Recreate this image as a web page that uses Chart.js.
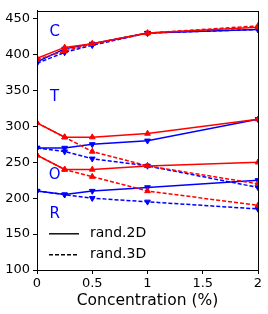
<!DOCTYPE html>
<html>
<head>
<meta charset="utf-8">
<script src="https://cdn.jsdelivr.net/npm/chart.js@4/dist/chart.umd.min.js"></script>
<style>
  html, body { margin: 0; padding: 0; background: #fff; }
  canvas { display: block; }
</style>
</head>
<body>
<canvas id="c" width="268" height="314"></canvas>
<script>
// ---- data ----
const concentrations = [0, 0.25, 0.5, 1, 2];
const xTicks = [0, 0.5, 1, 1.5, 2];
const yTicks = [100, 150, 200, 250, 300, 350, 400, 450];

const C_red_2D  = [395, 410, 415, 430, 438];
const C_red_3D  = [393, 405, 415, 430, 440];
const C_blue_2D = [390, 408, 415, 430, 435];
const C_blue_3D = [388, 403, 413, 430, 435];

const T_red_2D  = [305, 285, 285, 290, 310];
const T_red_3D  = [305, 285, 265, 245, 220];
const T_blue_2D = [270, 270, 275, 280, 310];
const T_blue_3D = [270, 265, 255, 245, 215];

const O_red_2D  = [260, 240, 240, 245, 250];
const O_red_3D  = [260, 240, 230, 210, 190];
const R_blue_2D = [210, 205, 210, 215, 225];
const R_blue_3D = [210, 205, 200, 195, 185];

const groupLabels = ['C', 'T', 'O', 'R'];
const groupLabelX = [0.16, 0.16, 0.16, 0.16];
const groupLabelY = [432, 341, 232, 178];

const legendLabels = ['rand.2D', 'rand.3D'];

const RED = '#ff0000', BLUE = '#0000ff';
const DASH = [4, 2];

function ds(values, color, dashed) {
  const isBlue = color === BLUE;
  return {
    data: concentrations.map((x, i) => ({ x: x, y: values[i] })),
    showLine: true,
    borderColor: color,
    backgroundColor: color,
    borderWidth: 1.5,
    borderDash: dashed ? DASH : [],
    pointStyle: 'triangle',
    rotation: isBlue ? 180 : 0,
    pointRadius: 3.3,
    pointBorderWidth: 1,
    pointBorderColor: color,
    pointBackgroundColor: color,
    tension: 0
  };
}

const datasets = [
  ds(C_red_2D, RED, false), ds(C_red_3D, RED, true),
  ds(T_red_2D, RED, false), ds(T_red_3D, RED, true),
  ds(O_red_2D, RED, false), ds(O_red_3D, RED, true),
  ds(C_blue_2D, BLUE, false), ds(C_blue_3D, BLUE, true),
  ds(T_blue_2D, BLUE, false), ds(T_blue_3D, BLUE, true),
  ds(R_blue_2D, BLUE, false), ds(R_blue_3D, BLUE, true)
];

const FONT = 'DejaVu Sans';

const decor = {
  id: 'decor',
  afterDraw(chart) {
    const ctx = chart.ctx;
    const a = chart.chartArea;
    const xs = chart.scales.x, ys = chart.scales.y;
    ctx.save();
    // frame
    ctx.strokeStyle = '#000';
    ctx.lineWidth = 1;
    ctx.setLineDash([]);
    ctx.strokeRect(Math.round(a.left) + 0.5, Math.round(a.top) + 0.5,
                   Math.round(a.right - a.left), Math.round(a.bottom - a.top));
    // group labels
    ctx.fillStyle = BLUE;
    ctx.font = '15px "' + FONT + '"';
    ctx.textAlign = 'center';
    ctx.textBaseline = 'middle';
    groupLabels.forEach((t, i) => {
      ctx.fillText(t, xs.getPixelForValue(groupLabelX[i]), ys.getPixelForValue(groupLabelY[i]));
    });
    // legend
    const lx0 = a.left + 12, lx1 = a.left + 42, tx = a.left + 53;
    const ly = [a.top + 223, a.top + 244];
    ctx.strokeStyle = '#000';
    ctx.fillStyle = '#000';
    ctx.lineWidth = 1.4;
    ctx.font = '14px "' + FONT + '"';
    ctx.textAlign = 'left';
    legendLabels.forEach((t, i) => {
      ctx.setLineDash(i === 0 ? [] : DASH);
      ctx.beginPath();
      ctx.moveTo(lx0, ly[i]);
      ctx.lineTo(lx1, ly[i]);
      ctx.stroke();
      ctx.fillText(t, tx, ly[i]);
    });
    ctx.restore();
  }
};

new Chart(document.getElementById('c'), {
  type: 'scatter',
  data: { datasets: datasets },
  options: {
    responsive: false,
    animation: false,
    events: [],
    layout: { padding: { left: 0, right: 10, top: 5, bottom: 0 } },
    plugins: { legend: { display: false }, tooltip: { enabled: false } },
    scales: {
      x: {
        type: 'linear',
        min: 0, max: 2,
        afterBuildTicks: s => { s.ticks = xTicks.map(v => ({ value: v })); },
        afterFit: s => { s.height = 44; },
        ticks: {
          color: '#000', font: { family: FONT, size: 13 }, padding: 2,
          maxRotation: 0,
          callback: v => String(v)
        },
        grid: { display: true, drawOnChartArea: false, tickLength: 4, color: '#000' },
        border: { display: true, color: '#000', width: 1 },
        title: { display: true, text: 'Concentration (%)', color: '#000',
                 font: { family: FONT, size: 15.5 }, padding: { top: 0, bottom: 4 } }
      },
      y: {
        type: 'linear',
        min: 100, max: 461,
        afterBuildTicks: s => { s.ticks = yTicks.map(v => ({ value: v })); },
        afterFit: s => { s.width = 37; },
        ticks: { color: '#000', font: { family: FONT, size: 13 }, padding: 3,
                 callback: v => String(v) },
        grid: { display: true, drawOnChartArea: false, tickLength: 4, color: '#000' },
        border: { display: true, color: '#000', width: 1 }
      }
    }
  },
  plugins: [decor]
});
</script>
</body>
</html>
